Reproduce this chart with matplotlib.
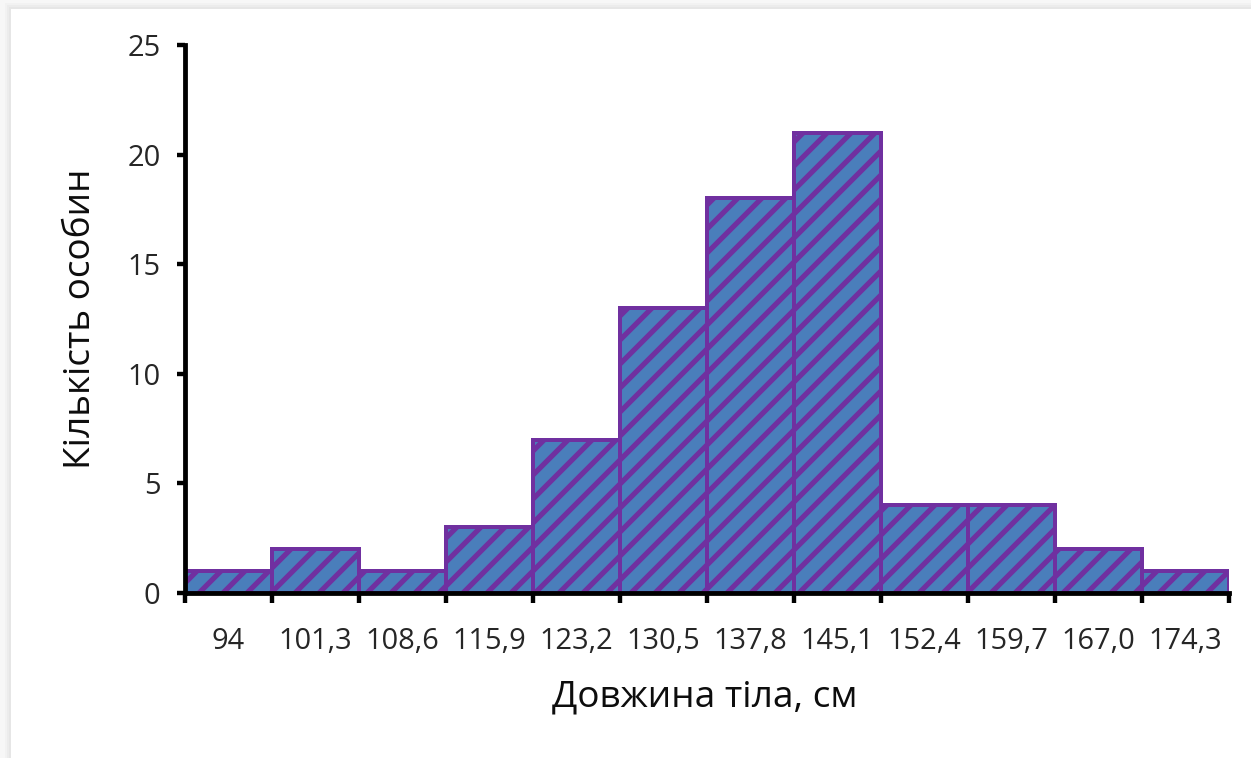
import matplotlib
matplotlib.use("Agg")
import matplotlib.pyplot as plt
from matplotlib.patches import Rectangle
import numpy as np

labels = ["94", "101,3", "108,6", "115,9", "123,2", "130,5", "137,8", "145,1",
          "152,4", "159,7", "167,0", "174,3"]
counts = [1, 2, 1, 3, 7, 13, 18, 21, 4, 4, 2, 1]
yticks = [0, 5, 10, 15, 20, 25]

plt.rcParams['font.family'] = ['Open Sans', 'DejaVu Sans']
plt.rcParams['hatch.linewidth'] = 2.6
plt.rcParams['hatch.color'] = '#7030a0'

DPI = 144
fig = plt.figure(figsize=(1251 / DPI, 758 / DPI), dpi=DPI)

# faint shadow edges of the frame (top and left)
for i, c in enumerate(['#e6e6e6', '#ececec', '#f2f2f2', '#f7f7f7']):
    fig.patches.append(Rectangle((0, 1 - (8 - 2 * i) / 758), 1, (8 - 2 * i) / 758,
                                 transform=fig.transFigure, color=c, zorder=-5))
    fig.patches.append(Rectangle((0, 0), (10 - 2 * i) / 1251, 1,
                                 transform=fig.transFigure, color=c, zorder=-5))

ax = fig.add_axes([0.1475, 0.2177, 0.835, 0.7229])
ax.patch.set_alpha(0)

x = np.arange(len(counts))
bars = ax.bar(x, counts, width=1.0, color='#4a7ebb', edgecolor='#7030a0',
              linewidth=2.0, hatch='//')
for b in bars:
    if hasattr(b, 'set_hatch_linewidth'):
        b.set_hatch_linewidth(2.6)

ax.set_xlim(-0.5, len(counts) - 0.5)
ax.set_ylim(0, 25)
ax.set_yticks(yticks)
ax.set_yticklabels([str(v) for v in yticks], fontsize=14.5, color='#262626')
ax.set_xticks(np.arange(-0.5, len(counts) + 0.5, 1.0))
ax.set_xticklabels([])
ax.set_xticks(x, minor=True)
ax.set_xticklabels(labels, minor=True, fontsize=14.5, color='#262626')
ax.tick_params(axis='x', which='minor', length=0, pad=17)
ax.tick_params(axis='x', which='major', length=5, width=2.2, direction='out')
ax.tick_params(axis='y', length=4, width=2.2, direction='out', pad=8)

for s in ['top', 'right']:
    ax.spines[s].set_visible(False)
for s in ['left', 'bottom']:
    ax.spines[s].set_linewidth(2.4)

fig.text(705 / 1251, 1 - 697 / 758, 'Довжина тіла, см', fontsize=18.5,
         ha='center', va='center', color='#0d0d0d')
fig.text(81 / 1251, 1 - 319 / 758, 'Кількість особин', fontsize=18.5,
         ha='center', va='center', rotation=90, color='#0d0d0d')

fig.savefig('out.png', dpi=DPI)
